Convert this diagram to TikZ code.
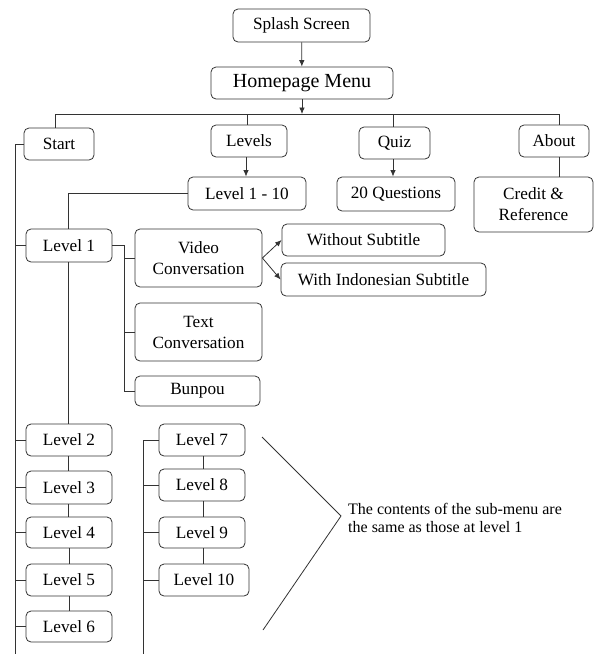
\documentclass[tikz,border=0pt]{standalone}
\usepackage{fontspec}
\setmainfont{Liberation Serif}
\usetikzlibrary{arrows.meta}
\begin{document}
\begin{tikzpicture}[x=1pt,y=-1pt,
  box/.style={draw=black!80,line width=0.8pt,rounded corners=5pt,inner sep=0pt,align=center,
    font=\fontsize{17.2}{21}\selectfont},
  ln/.style={draw=black!80,line width=0.8pt},
  arr/.style={ln,-{Latex[length=6.5pt,width=5.5pt]}}]
\useasboundingbox (0,0) rectangle (596,654);
% nodes
\node[box,minimum width=137,minimum height=33] (splash) at (301.5,25.5) {Splash Screen};
\node[box,minimum width=182,minimum height=32,font=\fontsize{20}{22}\selectfont] (home) at (302,83) {Homepage Menu};
\node[box,minimum width=70,minimum height=32] (start) at (59,144) {Start};
\node[box,minimum width=76,minimum height=32] (levels) at (249,141) {Levels};
\node[box,minimum width=71,minimum height=32] (quiz) at (394.5,143) {Quiz};
\node[box,minimum width=70,minimum height=32] (about) at (554,141) {About};
\node[box,minimum width=118,minimum height=33] (l110) at (247,193.5) {Level 1 - 10};
\node[box,minimum width=118,minimum height=34] (q20) at (396,194) {20 Questions};
\node[box,minimum width=119,minimum height=55] (credit) at (533.5,204.5) {Credit \&\\Reference};
\node[box,minimum width=86,minimum height=33] (lv1) at (69,245.5) {Level 1};
\node[box,minimum width=127,minimum height=58] (video) at (198.5,258) {Video\\Conversation};
\node[box,minimum width=127,minimum height=58] (text) at (198.5,332) {Text\\Conversation};
\node[box,minimum width=125,minimum height=30] (bunpou) at (197.5,391) {Bunpou};
\node[box,minimum width=163,minimum height=32] (without) at (363.5,240) {Without Subtitle};
\node[box,minimum width=205,minimum height=33] (withind) at (383.5,279.5) {With Indonesian Subtitle};
\node[box,minimum width=86,minimum height=32] (lv2) at (69,440) {Level 2};
\node[box,minimum width=86,minimum height=33] (lv3) at (69,487.5) {Level 3};
\node[box,minimum width=86,minimum height=31] (lv4) at (69,532.5) {Level 4};
\node[box,minimum width=86,minimum height=32] (lv5) at (69,580) {Level 5};
\node[box,minimum width=86,minimum height=31] (lv6) at (69,626.5) {Level 6};
\node[box,minimum width=86,minimum height=32] (lv7) at (202,440) {Level 7};
\node[box,minimum width=86,minimum height=32] (lv8) at (202,485) {Level 8};
\node[box,minimum width=86,minimum height=31] (lv9) at (202,532.5) {Level 9};
\node[box,minimum width=90,minimum height=32] (lv10) at (204,580) {Level 10};
\node[anchor=north west,inner sep=0pt,align=left,font=\fontsize{16}{18}\selectfont] (note) at (348,503) {The contents of the sub-menu are\\the same as those at level 1};
% coordinates
\coordinate (busL) at (55,114);
\coordinate (busR) at (559,114);
\coordinate (startline) at (15,654);
\coordinate (col2) at (143,654);
\coordinate (br1) at (262,437);
\coordinate (br2) at (341,516);
\coordinate (br3) at (263,630);
% connectors
\draw[arr] (splash) -- (home);
\draw[arr] (home.south) -- (home.south |- busL);
\draw[ln] (busL) -- (busR);
\draw[ln] (busL) -- (busL |- start.north);
\draw[ln] (247,114) -- (247,125);
\draw[ln] (393,114) -- (393,127);
\draw[ln] (busR) -- (busR |- about.north);
\draw[arr] (levels.south -| 246,0) -- (l110.north -| 246,0);
\draw[arr] (quiz.south -| 393,0) -- (q20.north -| 393,0);
\draw[ln] (about.south -| 559,0) -- (credit.north -| 559,0);
\draw[ln] (l110.west) -- (68,193.5) -- (lv1.north -| 68,0);
\draw[ln] (start.west) -- (15,144) -- (startline);
\foreach \n in {lv1,lv2,lv3,lv4,lv5,lv6} \draw[ln] (15,0 |- \n.west) -- (\n.west);
\draw[ln] (lv1.east) -- (124,245.5) -- (124,391) -- (bunpou.west);
\draw[ln] (124,0 |- video.west) -- (video.west);
\draw[ln] (124,0 |- text.west) -- (text.west);
\draw[arr] (video.east) -- (without.west);
\draw[arr] (video.east) -- (withind.west);
\draw[ln] (lv1.south -| 68,0) -- (lv2.north -| 68,0);
\draw[ln] (lv2.south -| 68,0) -- (lv3.north -| 68,0);
\draw[ln] (lv3.south -| 68,0) -- (lv4.north -| 68,0);
\draw[ln] (lv4.south -| 69,0) -- (lv5.north -| 69,0);
\draw[ln] (lv5.south -| 69,0) -- (lv6.north -| 69,0);
\draw[ln] (143,0 |- lv7.west) -- (col2);
\foreach \n in {lv7,lv8,lv9,lv10} \draw[ln] (143,0 |- \n.west) -- (\n.west);
\draw[ln] (lv7.south -| 203,0) -- (lv8.north -| 203,0);
\draw[ln] (lv8.south -| 203,0) -- (lv9.north -| 203,0);
\draw[ln] (lv9.south -| 203,0) -- (lv10.north -| 203,0);
\draw[ln] (br1) -- (br2) -- (br3);
\end{tikzpicture}
\end{document}
